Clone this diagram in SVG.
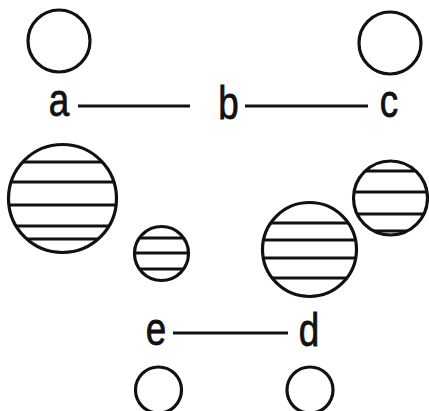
<svg xmlns="http://www.w3.org/2000/svg" width="429" height="411" viewBox="0 0 429 411">
<style>
.c{fill:none;stroke:#111;stroke-width:3.2}
.h{stroke:#111;stroke-width:3}
.l{stroke:#111;stroke-width:3}
.t{font-family:"Liberation Sans",Arial,sans-serif;font-size:46px;fill:#111;stroke:#111;stroke-width:0.8;text-anchor:middle}
</style>
<defs>
<clipPath id="k1"><circle cx="62.5" cy="198.5" r="54"/></clipPath>
<clipPath id="k2"><circle cx="161.5" cy="253.5" r="27"/></clipPath>
<clipPath id="k3"><circle cx="309.5" cy="249.5" r="47"/></clipPath>
<clipPath id="k4"><circle cx="390.5" cy="198" r="37"/></clipPath>
</defs>
<rect width="429" height="411" fill="#fff"/>
<g id="node-a-circle"><circle class="c" cx="59" cy="41" r="31"/></g>
<g id="node-c-circle"><circle class="c" cx="390" cy="43" r="31"/></g>
<g id="node-a"><text class="t" transform="translate(59,116) scale(0.8,1)">a</text></g>
<g id="node-b"><text class="t" transform="translate(228.5,119) scale(0.8,1)">b</text></g>
<g id="node-c"><text class="t" transform="translate(389,117) scale(0.8,1)">c</text></g>
<g id="node-e"><text class="t" transform="translate(156,345) scale(0.8,1)">e</text></g>
<g id="node-d"><text class="t" transform="translate(309,346) scale(0.8,1)">d</text></g>
<g id="sphere-1">
<g clip-path="url(#k1)">
<line class="h" x1="0" y1="162" x2="130" y2="162"/>
<line class="h" x1="0" y1="182" x2="130" y2="182"/>
<line class="h" x1="0" y1="205" x2="130" y2="205"/>
<line class="h" x1="0" y1="226" x2="130" y2="226"/>
<line class="h" x1="0" y1="239" x2="130" y2="239"/>
</g>
<circle class="c" cx="62.5" cy="198.5" r="54"/>
</g>
<g id="sphere-2">
<g clip-path="url(#k2)">
<line class="h" x1="120" y1="238" x2="200" y2="238"/>
<line class="h" x1="120" y1="253" x2="200" y2="253"/>
<line class="h" x1="120" y1="269" x2="200" y2="269"/>
</g>
<circle class="c" cx="161.5" cy="253.5" r="27"/>
</g>
<g id="sphere-3">
<g clip-path="url(#k3)">
<line class="h" x1="250" y1="223" x2="370" y2="223"/>
<line class="h" x1="250" y1="240" x2="370" y2="240"/>
<line class="h" x1="250" y1="258" x2="370" y2="258"/>
<line class="h" x1="250" y1="278" x2="370" y2="278"/>
</g>
<circle class="c" cx="309.5" cy="249.5" r="47"/>
</g>
<g id="sphere-4">
<g clip-path="url(#k4)">
<line class="h" x1="340" y1="171" x2="429" y2="171"/>
<line class="h" x1="340" y1="192" x2="429" y2="192"/>
<line class="h" x1="340" y1="214" x2="429" y2="214"/>
<line class="h" x1="340" y1="231" x2="429" y2="231"/>
</g>
<circle class="c" cx="390.5" cy="198" r="37"/>
</g>
<g id="node-e-circle"><circle class="c" cx="158.5" cy="390" r="23"/></g>
<g id="node-d-circle"><circle class="c" cx="310" cy="390" r="23"/></g>
<g id="connectors">
<line class="l" x1="78" y1="106" x2="190" y2="106"/>
<line class="l" x1="245" y1="106" x2="368" y2="106"/>
<line class="l" x1="173" y1="333" x2="288" y2="333"/>
</g>
</svg>
